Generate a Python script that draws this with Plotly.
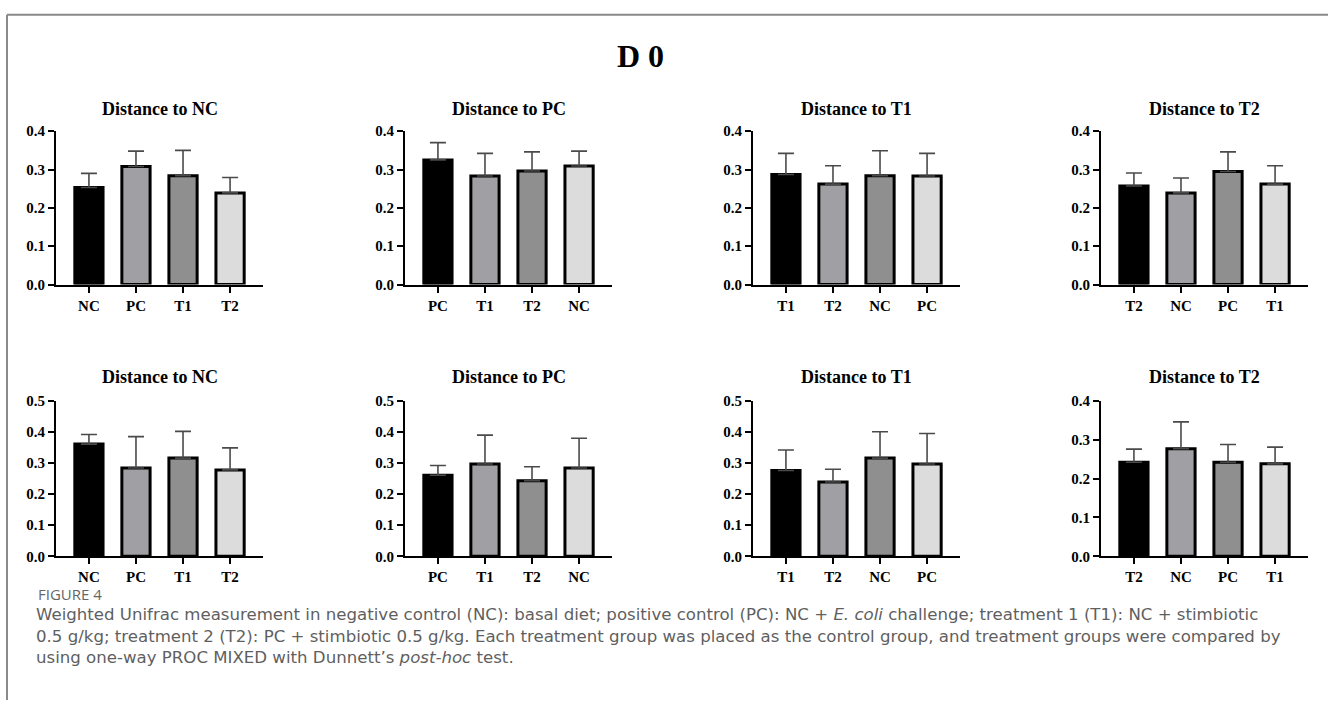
import plotly.graph_objects as go

# ---------------- data ----------------
main_title = "D 0"
panel_titles = ["Distance to NC", "Distance to PC", "Distance to T1", "Distance to T2"]

cats_nc = ["NC", "PC", "T1", "T2"]
cats_pc = ["PC", "T1", "T2", "NC"]
cats_t1 = ["T1", "T2", "NC", "PC"]
cats_t2 = ["T2", "NC", "PC", "T1"]

# top row
top_nc_mean = [0.253, 0.308, 0.284, 0.239]
top_nc_err = [0.037, 0.040, 0.066, 0.040]
top_pc_mean = [0.325, 0.283, 0.296, 0.309]
top_pc_err = [0.045, 0.059, 0.050, 0.039]
top_t1_mean = [0.287, 0.262, 0.284, 0.283]
top_t1_err = [0.055, 0.048, 0.065, 0.059]
top_t2_mean = [0.257, 0.239, 0.295, 0.262]
top_t2_err = [0.034, 0.039, 0.051, 0.048]

# bottom row
bot_nc_mean = [0.361, 0.284, 0.316, 0.278]
bot_nc_err = [0.031, 0.101, 0.086, 0.071]
bot_pc_mean = [0.261, 0.297, 0.243, 0.284]
bot_pc_err = [0.031, 0.093, 0.045, 0.096]
bot_t1_mean = [0.276, 0.239, 0.316, 0.297]
bot_t1_err = [0.066, 0.041, 0.085, 0.098]
bot_t2_mean = [0.242, 0.277, 0.242, 0.238]
bot_t2_err = [0.034, 0.069, 0.046, 0.043]

top_ymax = [0.4, 0.4, 0.4, 0.4]
bot_ymax = [0.5, 0.5, 0.5, 0.4]

bar_colors = ["#000000", "#a0a0a4", "#8f8f8f", "#dcdcdc"]

caption_label = "FIGURE 4"
caption_lines = [
    "Weighted Unifrac measurement in negative control (NC): basal diet; positive control (PC): NC + <i>E. coli</i> challenge; treatment 1 (T1): NC + stimbiotic",
    "0.5 g/kg; treatment 2 (T2): PC + stimbiotic 0.5 g/kg. Each treatment group was placed as the control group, and treatment groups were compared by",
    "using one-way PROC MIXED with Dunnett\u2019s <i>post-hoc</i> test.",
]

# ---------------- layout geometry (pixels) ----------------
W, H = 1328, 708
col_px = [(56, 263), (405, 612), (753, 960), (1101, 1308)]
row_px = [(126, 283), (402, 561)]  # (top, bottom) of plot area
title_y_px = [103, 378]

SERIF = "Liberation Serif"

panels = [
    (0, 0, cats_nc, top_nc_mean, top_nc_err),
    (0, 1, cats_pc, top_pc_mean, top_pc_err),
    (0, 2, cats_t1, top_t1_mean, top_t1_err),
    (0, 3, cats_t2, top_t2_mean, top_t2_err),
    (1, 0, cats_nc, bot_nc_mean, bot_nc_err),
    (1, 1, cats_pc, bot_pc_mean, bot_pc_err),
    (1, 2, cats_t1, bot_t1_mean, bot_t1_err),
    (1, 3, cats_t2, bot_t2_mean, bot_t2_err),
]

fig = go.Figure()
layout_axes = {}
annotations = []

for i, (r, c, cats, means, errs) in enumerate(panels):
    n = i + 1
    xname = "x" if n == 1 else f"x{n}"
    yname = "y" if n == 1 else f"y{n}"
    fig.add_trace(go.Bar(
        x=cats, y=means,
        xaxis=xname, yaxis=yname,
        width=0.6,
        marker=dict(color=bar_colors, line=dict(color="#000000", width=3)),
        error_y=dict(type="data", symmetric=False, array=errs,
                     arrayminus=[0] * len(errs),
                     color="#4a4a4a", thickness=1.6, width=8),
        showlegend=False,
    ))
    x0, x1 = col_px[c]
    yt, yb = row_px[r]
    ymax = top_ymax[c] if r == 0 else bot_ymax[c]
    xa = "xaxis" if n == 1 else f"xaxis{n}"
    ya = "yaxis" if n == 1 else f"yaxis{n}"
    layout_axes[xa] = dict(
        domain=[x0 / W, x1 / W], anchor=yname,
        type="category", categoryorder="array", categoryarray=cats,
        range=[-0.7, 3.7], showgrid=False, zeroline=False,
        showline=True, linecolor="#000000", linewidth=2,
        ticks="outside", ticklen=6, tickwidth=2, tickcolor="#000000",
        tickfont=dict(family=SERIF, size=15, color="#000000", weight="bold"),
        fixedrange=True,
    )
    layout_axes[ya] = dict(
        domain=[1 - yb / H, 1 - yt / H], anchor=xname,
        range=[0, ymax], dtick=0.1, tick0=0, tickformat=".1f",
        showgrid=False, zeroline=False,
        showline=True, linecolor="#000000", linewidth=2,
        ticks="outside", ticklen=6, tickwidth=2, tickcolor="#000000",
        tickfont=dict(family=SERIF, size=15, color="#000000", weight="bold"),
        fixedrange=True,
    )
    annotations.append(dict(
        text=panel_titles[c], xref="paper", yref="paper",
        x=(x0 + x1) / 2 / W, y=1 - title_y_px[r] / H,
        xanchor="center", yanchor="middle", showarrow=False,
        font=dict(family=SERIF, size=18, color="#000000", weight="bold"),
    ))

annotations.append(dict(
    text=main_title, xref="paper", yref="paper",
    x=640 / W, y=1 - 49 / H, xanchor="center", yanchor="middle",
    showarrow=False,
    font=dict(family=SERIF, size=32, color="#000000", weight="bold"),
))

annotations.append(dict(
    text=caption_label, xref="paper", yref="paper",
    x=36 / W, y=1 - 600 / H, xanchor="left", yanchor="middle",
    showarrow=False,
    font=dict(family="Open Sans", size=15, color="#666666"),
))
annotations.append(dict(
    text="<br>".join(caption_lines), xref="paper", yref="paper",
    x=34 / W, y=1 - 643 / H, xanchor="left", yanchor="middle", align="left",
    showarrow=False,
    font=dict(family="DejaVu Sans", size=16.6, color="#5f5f5f"),
))

shapes = [
    dict(type="line", xref="paper", yref="paper",
         x0=7 / W, x1=1.0, y0=1 - 7 / H, y1=1 - 7 / H,
         line=dict(color="#8a8a8a", width=2)),
    dict(type="line", xref="paper", yref="paper",
         x0=7 / W, x1=7 / W, y0=1 - 7 / H, y1=0,
         line=dict(color="#8a8a8a", width=2)),
]

fig.update_layout(
    width=W, height=H,
    margin=dict(l=0, r=0, t=0, b=0),
    paper_bgcolor="#ffffff", plot_bgcolor="rgba(0,0,0,0)",
    bargap=0.4,
    annotations=annotations,
    shapes=shapes,
    **layout_axes,
)

fig.write_html("out.html", config={"displayModeBar": False})
